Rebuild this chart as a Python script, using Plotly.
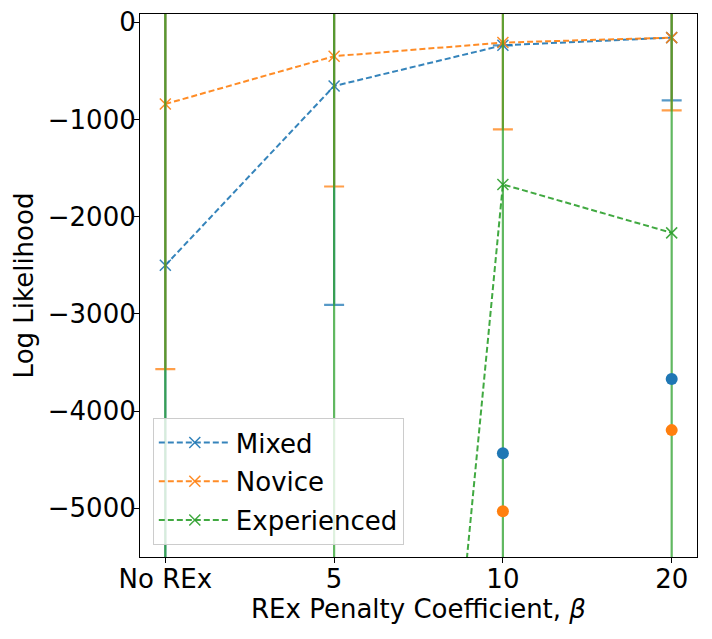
import plotly.graph_objects as go

# ---- data ----
categories = ["No REx", "5", "10", "20"]

mixed_ll = [-2500, -656, -237, -158]
mixed_err = [3400, 2250, None, 645]

novice_ll = [-841, -349, -209, -158]
novice_err = [2726, 1340, 893, 748]

experienced_ll = [-24000, -19700, -1668, -2166]
experienced_err = [26000, 21000, 4500, 4000]

dot_x = ["10", "20"]
dot_mixed = [-4432, -3669]
dot_novice = [-5030, -4195]

ytick_vals = [0, -1000, -2000, -3000, -4000, -5000]
ytick_text = ["0", "\u22121000", "\u22122000", "\u22123000", "\u22124000", "\u22125000"]

# ---- styling ----
FONT = "DejaVu Sans"
FS = 26
BLUE = (31, 119, 180)
ORANGE = (255, 127, 14)
GREEN = (44, 160, 44)


def rgba(c, a):
    return f"rgba({c[0]},{c[1]},{c[2]},{a})"


fig = go.Figure()

series = [
    ("Mixed", mixed_ll, mixed_err, BLUE),
    ("Novice", novice_ll, novice_err, ORANGE),
    ("Experienced", experienced_ll, experienced_err, GREEN),
]

for name, ys, errs, col in series:
    fig.add_trace(go.Scatter(
        x=categories, y=ys, name=name, mode="lines+markers",
        legendgroup=name,
        line=dict(color=rgba(col, 0.9), width=2, dash="6px,3px"),
        marker=dict(symbol="x-thin", size=11,
                    color=rgba(col, 0.9),
                    line=dict(color=rgba(col, 0.9), width=1.5)),
        error_y=dict(type="data", array=errs, visible=True,
                     color=rgba(col, 0.75), thickness=2.2, width=10),
        cliponaxis=True,
    ))

fig.add_trace(go.Scatter(
    x=dot_x, y=dot_mixed, mode="markers", showlegend=False,
    marker=dict(symbol="circle", size=12, color=rgba(BLUE, 1)),
))
fig.add_trace(go.Scatter(
    x=dot_x, y=dot_novice, mode="markers", showlegend=False,
    marker=dict(symbol="circle", size=12, color=rgba(ORANGE, 1)),
))

fig.update_layout(
    width=704, height=631,
    margin=dict(l=132, r=15, t=6, b=82, autoexpand=False),
    paper_bgcolor="white", plot_bgcolor="white",
    font=dict(family=FONT, size=FS, color="black"),
    showlegend=True,
    legend=dict(
        x=0.023, y=0.022, xanchor="left", yanchor="bottom",
        bgcolor="rgba(255,255,255,0.8)", bordercolor="#cccccc", borderwidth=1,
        font=dict(family=FONT, size=FS, color="black"),
        tracegroupgap=2, itemwidth=72,
    ),
)

fig.update_xaxes(
    type="category", categoryorder="array", categoryarray=categories,
    range=[-0.15, 3.15],
    showgrid=False, zeroline=False,
    showline=True, linecolor="black", linewidth=1.1, mirror=True,
    ticks="outside", ticklen=5, tickwidth=1.1, tickcolor="black",
    ticklabelstandoff=-6, ticklabeloverflow="allow",
    tickfont=dict(family=FONT, size=FS, color="black"),
    title=dict(text="REx Penalty Coefficient, <i>\u03b2</i>",
               font=dict(family=FONT, size=FS, color="black"), standoff=0),
)
fig.update_yaxes(
    range=[-5500, 85],
    tickvals=ytick_vals, ticktext=ytick_text,
    showgrid=False, zeroline=False,
    showline=True, linecolor="black", linewidth=1.1, mirror=True,
    ticks="outside", ticklen=5, tickwidth=1.1, tickcolor="black",
    ticklabelstandoff=-7, ticklabeloverflow="allow",
    tickfont=dict(family=FONT, size=FS, color="black"),
    title=dict(text="Log Likelihood",
               font=dict(family=FONT, size=FS, color="black"), standoff=6),
)

fig.write_html("out.html")
